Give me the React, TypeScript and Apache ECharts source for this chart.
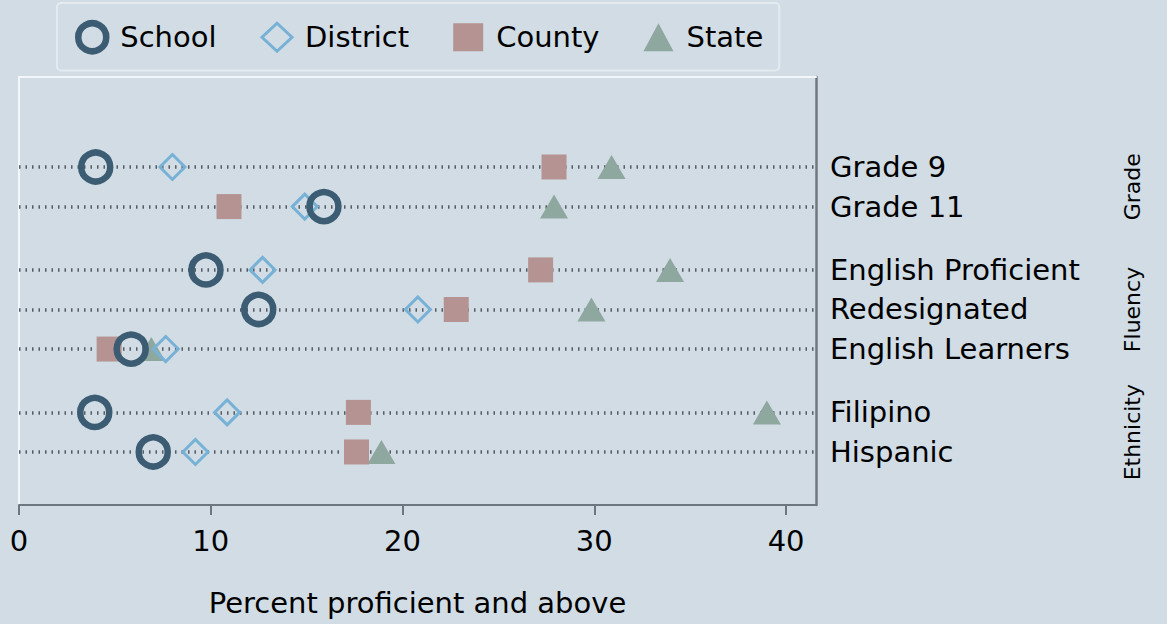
import React, { useEffect, useRef } from "react";
import * as echarts from "echarts";

// ---- data ----
const groupNames = ["Grade", "Fluency", "Ethnicity"];
const groupRows = [
  ["Grade 9", "Grade 11"],
  ["English Proficient", "Redesignated", "English Learners"],
  ["Filipino", "Hispanic"],
];
const school = [4.0, 15.9, 9.75, 12.5, 5.85, 3.95, 7.0];
const district = [8.0, 14.9, 12.7, 20.8, 7.65, 10.85, 9.2];
const county = [27.9, 10.95, 27.2, 22.8, 4.7, 17.7, 17.6];
const state = [30.9, 27.9, 33.95, 29.85, 6.9, 39.0, 18.9];
const xTicks = [0, 10, 20, 30, 40];
const xTitle = "Percent proficient and above";

// ---- derived row positions (1 unit per row, extra gap between groups) ----
const GROUP_GAP = 0.6;
const categories: string[] = [];
const positions: number[] = [];
const groupCenters: number[] = [];
{
  let p = 0;
  groupRows.forEach((rows) => {
    const start = p;
    rows.forEach((r) => {
      categories.push(r);
      positions.push(p);
      p += 1;
    });
    groupCenters.push((start + p - 1) / 2);
    p += GROUP_GAP;
  });
}

const XMAX = 41.56;
const Y_MIN = -2.274;
const Y_MAX = 8.54;
const FONT = "DejaVu Sans";
const BG = "#d1dce4";

const C_SCHOOL = "#3c5c73";
const C_DISTRICT = "#78b1d6";
const C_COUNTY = "#b59392";
const C_STATE = "#8fa89f";

const toPts = (vals: number[]) => vals.map((v, i) => [v, positions[i]]);

export default function App() {
  const ref = useRef<HTMLDivElement>(null);
  useEffect(() => {
    if (!ref.current) return;
    const chart = echarts.init(ref.current, undefined, { renderer: "svg" });
    chart.setOption({
      animation: false,
      backgroundColor: BG,
      textStyle: { fontFamily: FONT },
      grid: { left: 19, right: 351, top: 77, bottom: 119 },
      legend: {
        data: [
          { name: "School", icon: "circle", itemStyle: { color: "transparent", borderColor: C_SCHOOL, borderWidth: 6.5 } },
          { name: "District", icon: "diamond", itemStyle: { color: "transparent", borderColor: C_DISTRICT, borderWidth: 3 } },
          { name: "County", icon: "rect", itemStyle: { color: C_COUNTY, borderWidth: 0 } },
          { name: "State", icon: "triangle", itemStyle: { color: C_STATE, borderWidth: 0 } },
        ],
        left: 57,
        top: 3,
        padding: [17, 16, 16, 18],
        itemWidth: 30,
        itemHeight: 28,
        itemGap: 44,
        borderColor: "#e4ebf0",
        borderWidth: 2,
        borderRadius: 4,
        textStyle: { fontSize: 29, color: "#000", fontFamily: FONT, padding: [0, 0, 0, 8] },
      },
      xAxis: [
        {
          type: "value",
          position: "bottom",
          min: 0,
          max: XMAX,
          splitLine: { show: false },
          axisLine: { show: true, onZero: false, lineStyle: { color: "#6c7780", width: 2 } },
          axisTick: { show: true, customValues: xTicks, length: 10, lineStyle: { color: "#6c7780", width: 2 } },
          axisLabel: { customValues: xTicks, fontSize: 29, color: "#000", margin: 21, fontFamily: FONT },
          name: xTitle,
          nameLocation: "middle",
          nameGap: 83,
          nameTextStyle: { fontSize: 29, color: "#000", fontFamily: FONT },
        },
        {
          type: "value",
          position: "top",
          min: 0,
          max: XMAX,
          splitLine: { show: false },
          axisLine: { show: true, onZero: false, lineStyle: { color: "#f4f7f9", width: 2 } },
          axisTick: { show: false },
          axisLabel: { show: false },
        },
      ],
      yAxis: [
        {
          type: "value",
          position: "left",
          inverse: true,
          min: Y_MIN,
          max: Y_MAX,
          splitLine: { show: false },
          axisLine: { show: true, onZero: false, lineStyle: { color: "#f4f7f9", width: 2 } },
          axisTick: { show: false },
          axisLabel: { show: false },
        },
        {
          type: "value",
          position: "right",
          offset: 0,
          inverse: true,
          min: Y_MIN,
          max: Y_MAX,
          splitLine: { show: false },
          axisLine: { show: true, onZero: false, lineStyle: { color: "#70787f", width: 2.5 } },
          axisTick: { show: false },
          axisLabel: {
            customValues: positions,
            fontSize: 29,
            color: "#000",
            margin: 14,
            fontFamily: FONT,
            padding: [4, 0, 0, 0],
            formatter: (v: number) => {
              const i = positions.findIndex((p) => Math.abs(p - v) < 1e-6);
              return i >= 0 ? categories[i] : "";
            },
          },
        },
        {
          type: "value",
          position: "right",
          offset: 0,
          inverse: true,
          min: Y_MIN,
          max: Y_MAX,
          splitLine: { show: false },
          axisLine: { show: false, onZero: false },
          axisTick: { show: false },
          axisLabel: {
            customValues: groupCenters,
            rotate: 90,
            fontSize: 22,
            color: "#000",
            margin: 305,
            fontFamily: FONT,
            formatter: (v: number) => {
              const i = groupCenters.findIndex((p) => Math.abs(p - v) < 1e-6);
              return i >= 0 ? groupNames[i] : "";
            },
          },
        },
      ],
      series: [
        {
          name: "State",
          type: "scatter",
          symbol: "triangle",
          symbolSize: [28, 24],
          itemStyle: { color: C_STATE, opacity: 1 },
          data: toPts(state),
          z: 2,
          markLine: {
            silent: true,
            z: 1,
            symbol: ["none", "none"],
            label: { show: false },
            lineStyle: { type: [1.5, 5], width: 3.5, color: "#555b62" },
            emphasis: { disabled: true },
            data: positions.map((p) => [{ coord: [0, p] }, { coord: [XMAX, p] }]),
          },
        },
        {
          name: "County",
          type: "scatter",
          symbol: "rect",
          symbolSize: 25,
          itemStyle: { color: C_COUNTY, opacity: 1 },
          data: toPts(county),
          z: 3,
        },
        {
          name: "District",
          type: "scatter",
          symbol: "diamond",
          symbolSize: 25,
          itemStyle: { color: "transparent", borderColor: C_DISTRICT, borderWidth: 3, opacity: 1 },
          data: toPts(district),
          z: 4,
        },
        {
          name: "School",
          type: "scatter",
          symbol: "circle",
          symbolSize: 29,
          itemStyle: { color: "transparent", borderColor: C_SCHOOL, borderWidth: 6.5, opacity: 1 },
          data: toPts(school),
          z: 5,
        },
      ],
    });
    return () => chart.dispose();
  }, []);
  return (
    <div
      ref={ref}
      style={{ position: "fixed", left: 0, top: 0, width: 1167, height: 624 }}
    />
  );
}
